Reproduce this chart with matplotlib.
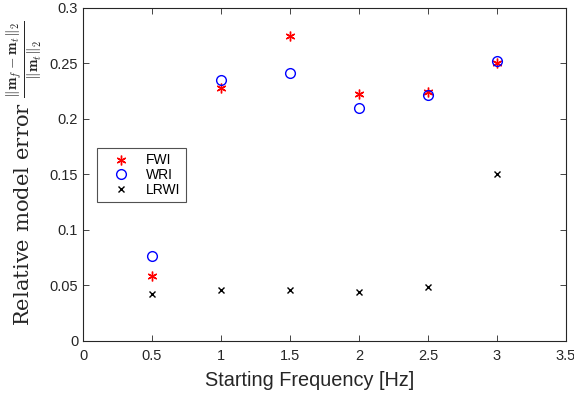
import matplotlib
matplotlib.use("Agg")
import matplotlib.pyplot as plt

freqs = [0.5, 1.0, 1.5, 2.0, 2.5, 3.0]
fwi = [0.0586, 0.228, 0.275, 0.2225, 0.224, 0.250]
wri = [0.0766, 0.235, 0.2415, 0.210, 0.2216, 0.2525]
lrwi = [0.0420, 0.0455, 0.0455, 0.0440, 0.0485, 0.150]
xticks = [0, 0.5, 1, 1.5, 2, 2.5, 3, 3.5]
yticks = [0, 0.05, 0.1, 0.15, 0.2, 0.25, 0.3]

plt.rcParams['font.family'] = ['Liberation Sans', 'DejaVu Sans']
plt.rcParams['mathtext.fontset'] = 'cm'

fig = plt.figure(figsize=(5.74, 3.96), dpi=100)
ax = fig.add_axes([0.1446, 0.1389, 0.8414, 0.8409])

ax.plot(freqs, fwi, linestyle='none', marker=(6, 2, 0), color='red', markersize=7, mew=1.0, label='FWI')
ax.plot(freqs, wri, linestyle='none', marker='o', mfc='none', mec='blue', markersize=7, mew=1.0, label='WRI')
ax.plot(freqs, lrwi, linestyle='none', marker='x', color='black', markersize=5, mew=1.0, label='LRWI')

ax.set_xlim(0, 3.5)
ax.set_ylim(0, 0.3)
ax.set_xticks(xticks)
ax.set_xticklabels(['0', '0.5', '1', '1.5', '2', '2.5', '3', '3.5'])
ax.set_yticks(yticks)
ax.set_yticklabels(['0', '0.05', '0.1', '0.15', '0.2', '0.25', '0.3'])
ax.tick_params(direction='in', top=True, right=True, labelsize=10.5, colors='#262626', length=4, width=0.6)
ax.tick_params(axis='x', pad=6)
for s in ax.spines.values():
    s.set_color('#262626')
    s.set_linewidth(0.8)

ax.set_xlabel('Starting Frequency [Hz]', fontsize=14.3, color='#262626')
ax.xaxis.set_label_coords(0.47, -0.09)
ax.set_ylabel(r'Relative model error $\frac{\|\mathbf{m}_f-\mathbf{m}_t\|_2}{\|\mathbf{m}_t\|_2}$',
              fontsize=15.2, color='#262626')
ax.yaxis.label.set_fontfamily('DejaVu Serif')
ax.yaxis.set_label_coords(-0.08, 0.505)

leg = ax.legend(loc='upper left', bbox_to_anchor=(0.029, 0.58), frameon=True, fancybox=False,
                edgecolor='#262626', fontsize=10, borderpad=0.4, borderaxespad=0.0,
                handletextpad=0.43, labelspacing=0.05, handlelength=2.7)
leg.get_frame().set_linewidth(0.8)

fig.savefig('out.png', dpi=100)
